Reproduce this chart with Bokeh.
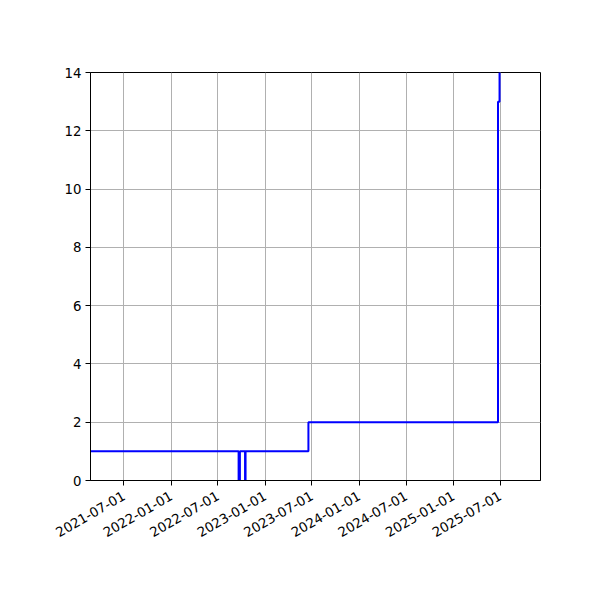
import math
from datetime import datetime

from bokeh.embed import file_html
from bokeh.models import FixedTicker, Range1d
from bokeh.plotting import figure
from bokeh.resources import INLINE

# step points (value holds until the next date)
dates = ["2021-02-22", "2022-09-20", "2022-09-25", "2022-10-15", "2022-10-17",
         "2023-06-18", "2025-06-23", "2025-06-29", "2025-06-30"]
values = [1, 0, 1, 0, 1, 2, 13, 14, 14]

tick_labels = ["2021-07-01", "2022-01-01", "2022-07-01", "2023-01-01", "2023-07-01",
               "2024-01-01", "2024-07-01", "2025-01-01", "2025-07-01"]
y_ticks = [0, 2, 4, 6, 8, 10, 12, 14]

x_start, x_end = "2021-02-22", "2025-12-05"


def to_dt(s):
    return datetime.strptime(s, "%Y-%m-%d")


def to_ms(s):
    return (to_dt(s) - datetime(1970, 1, 1)).total_seconds() * 1000


xs = [to_dt(d) for d in dates]

p = figure(width=592, height=592, x_axis_type="datetime",
           output_backend="svg", toolbar_location=None,
           x_range=Range1d(to_dt(x_start), to_dt(x_end)),
           y_range=Range1d(0, 14),
           min_border_left=90, min_border_right=52,
           min_border_top=72, min_border_bottom=112)

p.step(xs, values, mode="after", line_color="blue", line_width=2)

tick_ms = [to_ms(t) for t in tick_labels]
p.xaxis.ticker = FixedTicker(ticks=tick_ms)
p.xaxis.major_label_overrides = {m: t for m, t in zip(tick_ms, tick_labels)}
p.xaxis.major_label_orientation = math.pi / 6
p.yaxis.ticker = FixedTicker(ticks=y_ticks)

for ax in (p.xaxis, p.yaxis):
    ax.major_label_text_font = "DejaVu Sans"
    ax.major_label_text_font_size = "13.3px"
    ax.major_label_text_color = "black"
    ax.major_tick_out = 5
    ax.major_tick_in = 0
    ax.minor_tick_line_color = None
    ax.axis_line_color = "black"
    ax.major_tick_line_color = "black"
    ax.major_label_standoff = 4
p.xaxis.major_label_standoff = 9

p.grid.grid_line_color = "#b0b0b0"
p.grid.grid_line_width = 1
p.outline_line_color = "black"
p.outline_line_width = 1
p.background_fill_color = "white"
p.border_fill_color = "white"

open("out.html", "w").write(file_html(p, INLINE))
